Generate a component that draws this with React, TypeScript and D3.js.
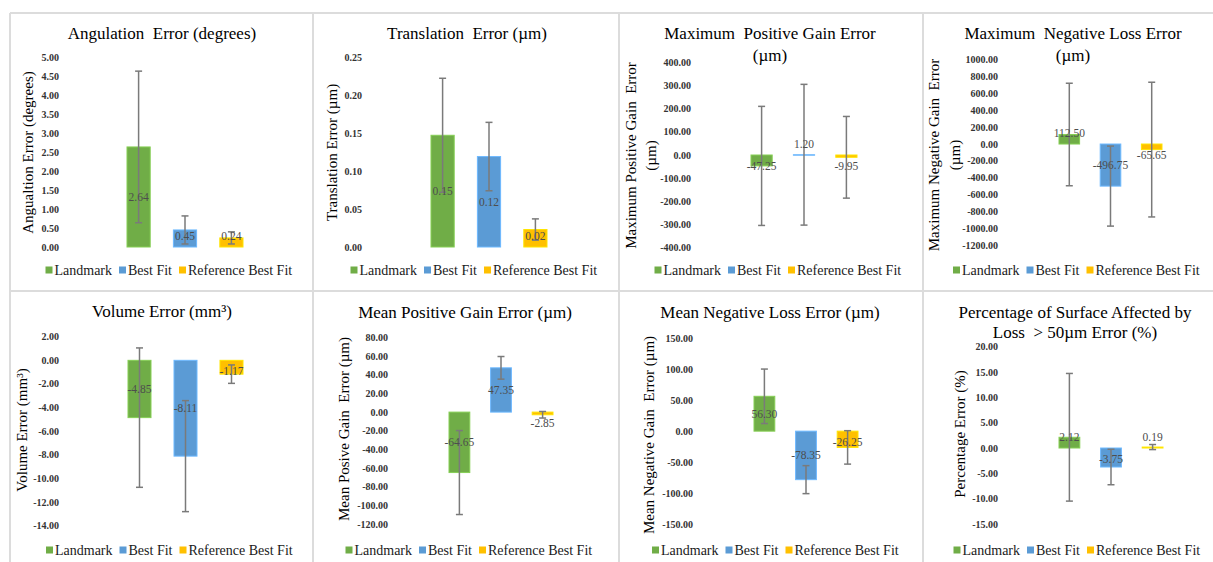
import React from "react";
import * as d3 from "d3";

// series shared by every panel
const series = ["Landmark", "Best Fit", "Reference Best Fit"];
const colors = ["#70AD47", "#5B9BD5", "#FFC000"];

// values (mean and error bar half-width)
const angulationMean = [2.64, 0.45, 0.24];
const angulationErr = [2.0, 0.37, 0.16];
const angulationDomain = [0, 5];

const translationMean = [0.147, 0.119, 0.023];
const translationErr = [0.075, 0.045, 0.014];
const translationDomain = [0, 0.25];

const maxGainMean = [-47.25, 1.2, -9.95];
const maxGainErr = [258, 305, 177];
const maxGainDomain = [-400, 400];

const maxLossMean = [112.5, -496.75, -65.65];
const maxLossErr = [605, 472, 795];
const maxLossDomain = [-1200, 1000];

const volumeMean = [-4.85, -8.11, -1.17];
const volumeErr = [5.9, 4.7, 0.78];
const volumeDomain = [-14, 2];

const meanGainMean = [-64.65, 47.35, -2.85];
const meanGainErr = [44.9, 12.1, 3.5];
const meanGainDomain = [-120, 80];

const meanLossMean = [56.3, -78.35, -26.25];
const meanLossErr = [44, 22.6, 27];
const meanLossDomain = [-150, 150];

const surfaceMean = [2.12, -3.75, 0.19];
const surfaceErr = [12.6, 3.5, 0.5];
const surfaceDomain = [-15, 20];

const FONT = "Liberation Serif, Times New Roman, DejaVu Serif, serif";

const panels = [
  {
    title: ["Angulation  Error (degrees)"], yTitle: ["Angualtion Error (degrees)"],
    mean: angulationMean, err: angulationErr, domain: angulationDomain, step: 0.5,
    tx: 162, ty: [33.5], yr: [247, 57.5], bx: [127, 243], tickX: 59, ytx: [28], yty: 152.5, lx: 168.5, ly: 270,
  },
  {
    title: ["Translation  Error (\u00b5m)"], yTitle: ["Translation Error (\u00b5m)"],
    mean: translationMean, err: translationErr, domain: translationDomain, step: 0.05,
    tx: 467, ty: [33.5], yr: [247, 57], bx: [431, 547], tickX: 362, ytx: [332], yty: 152.5, lx: 473.5, ly: 270,
  },
  {
    title: ["Maximum  Positive Gain Error", "(\u00b5m)"], yTitle: ["Maximum Positive Gain  Error", "(\u00b5m)"],
    mean: maxGainMean, err: maxGainErr, domain: maxGainDomain, step: 100,
    tx: 770, ty: [33.5, 55.5], yr: [247.3, 62.7], bx: [751, 857], tickX: 691, ytx: [631, 651], yty: 155.5, lx: 777.5, ly: 270,
  },
  {
    title: ["Maximum  Negative Loss Error", "(\u00b5m)"], yTitle: ["Maximum Negative Gain  Error", "(\u00b5m)"],
    mean: maxLossMean, err: maxLossErr, domain: maxLossDomain, step: 200,
    tx: 1073, ty: [33.5, 55.5], yr: [245.7, 59.3], bx: [1059, 1162], tickX: 998, ytx: [934, 955], yty: 155, lx: 1076, ly: 270,
  },
  {
    title: ["Volume Error (mm\u00b3)"], yTitle: ["Volume Error (mm\u00b3)"],
    mean: volumeMean, err: volumeErr, domain: volumeDomain, step: 2,
    tx: 162, ty: [311], yr: [525.7, 336.7], bx: [128, 243], tickX: 59, ytx: [22], yty: 430, lx: 169, ly: 550,
  },
  {
    title: ["Mean Positive Gain Error (\u00b5m)"], yTitle: ["Mean Posive Gain  Error (\u00b5m)"],
    mean: meanGainMean, err: meanGainErr, domain: meanGainDomain, step: 20,
    tx: 465, ty: [312], yr: [524.3, 337.3], bx: [449, 553], tickX: 388, ytx: [344], yty: 429, lx: 468.5, ly: 550,
  },
  {
    title: ["Mean Negative Loss Error (\u00b5m)"], yTitle: ["Mean Negative Gain  Error (\u00b5m)"],
    mean: meanLossMean, err: meanLossErr, domain: meanLossDomain, step: 50,
    tx: 770, ty: [312], yr: [524, 338.3], bx: [754, 858], tickX: 693, ytx: [649], yty: 435, lx: 775, ly: 550,
  },
  {
    title: ["Percentage of Surface Affected by", "Loss  > 50\u00b5m Error (%)"], yTitle: ["Percentage Error (%)"],
    mean: surfaceMean, err: surfaceErr, domain: surfaceDomain, step: 5,
    tx: 1075, ty: [312, 332], yr: [524, 346.7], bx: [1059, 1163], tickX: 998, ytx: [960], yty: 434, lx: 1076.5, ly: 550,
  },
];

const txt = (extra = {}) => ({ fontFamily: FONT, whiteSpace: "pre", ...extra });

const Panel = ({ p }) => {
  const x = d3.scaleBand().domain(series).range(p.bx).paddingInner(0.5).paddingOuter(0);
  const y = d3.scaleLinear().domain(p.domain).range(p.yr);
  const ticks = d3.range(p.domain[0], p.domain[1] + p.step / 2, p.step);
  const y0 = y(0);

  // legend item offsets
  const legendOffsets = [0, 73.5, 133.5];
  const legendLeft = p.lx - 123;

  return (
    <g>
      {p.title.map((t, i) => (
        <text key={i} x={p.tx} y={p.ty[i]} textAnchor="middle" dominantBaseline="central"
          style={txt({ fontSize: "17px" })} fill="#000">{t}</text>
      ))}
      {p.yTitle.map((t, i) => (
        <text key={i} transform={`translate(${p.ytx[i]},${p.yty}) rotate(-90)`} textAnchor="middle"
          dominantBaseline="central" style={txt({ fontSize: "15px" })} fill="#000">{t}</text>
      ))}
      {ticks.map((t) => (
        <text key={t} x={p.tickX} y={y(t)} textAnchor="end" dominantBaseline="central"
          style={txt({ fontSize: "10px", fontWeight: "bold" })} fill="#333">{t.toFixed(2)}</text>
      ))}
      {series.map((s, i) => {
        const v = p.mean[i];
        const yv = y(v);
        return (
          <rect key={s} x={x(s)} width={x.bandwidth()} y={Math.min(yv, y0)}
            height={Math.max(Math.abs(yv - y0), 0.5)} fill={colors[i]}
            stroke={d3.color(colors[i]).brighter(0.5).formatHex()} strokeWidth={1} />
        );
      })}
      {series.map((s, i) => {
        const cx = x(s) + x.bandwidth() / 2;
        const top = y(p.mean[i] + p.err[i]);
        const bot = y(p.mean[i] - p.err[i]);
        return (
          <g key={s} stroke="#7a7a7a" strokeWidth={1.5}>
            <line x1={cx} x2={cx} y1={top} y2={bot} />
            <line x1={cx - 3.5} x2={cx + 3.5} y1={top} y2={top} />
            <line x1={cx - 3.5} x2={cx + 3.5} y1={bot} y2={bot} />
          </g>
        );
      })}
      {series.map((s, i) => {
        const v = p.mean[i];
        const h = Math.abs(y(v) - y0);
        const dir = v >= 0 ? -1 : 1;
        const ly = y0 + dir * Math.max(h / 2, 11);
        return (
          <text key={s} x={x(s) + x.bandwidth() / 2} y={ly} textAnchor="middle" dominantBaseline="central"
            style={txt({ fontSize: "11.5px" })} fill="#4d4d4d">{v.toFixed(2)}</text>
        );
      })}
      {series.map((s, i) => (
        <g key={s} transform={`translate(${legendLeft + legendOffsets[i]},${p.ly})`}>
          <rect x={0} y={-3.5} width={7} height={7} fill={colors[i]} />
          <text x={9} y={0} dominantBaseline="central" style={txt({ fontSize: "14px" })} fill="#1a1a1a">{s}</text>
        </g>
      ))}
    </g>
  );
};

export default function App() {
  const vLines = [10, 313, 619, 923];
  const hLines = [13, 291];
  return (
    <svg width={1213} height={562} style={{ position: "absolute", left: 0, top: 0, background: "#fff" }}>
      <rect width={1213} height={562} fill="#fff" />
      {vLines.map((vx) => (
        <line key={vx} x1={vx} x2={vx} y1={13} y2={562} stroke="#dcdcdc" strokeWidth={2} />
      ))}
      {hLines.map((hy) => (
        <line key={hy} x1={10} x2={1213} y1={hy} y2={hy} stroke="#dcdcdc" strokeWidth={2} />
      ))}
      {panels.map((p, i) => (
        <Panel key={i} p={p} />
      ))}
    </svg>
  );
}
